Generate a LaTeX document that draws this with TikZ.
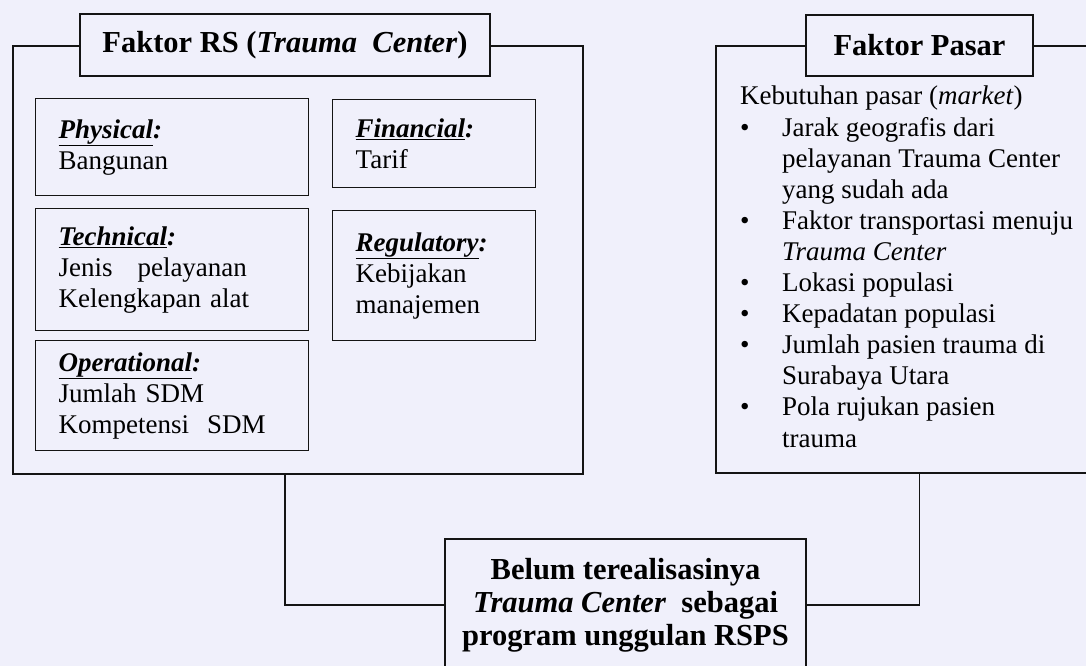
\documentclass[tikz,border=0pt]{standalone}
\usepackage{fontspec}
\setmainfont{Liberation Serif}
\usepackage{tikz}
\usetikzlibrary{positioning, calc}
\definecolor{latar}{RGB}{240,240,251}
\definecolor{garis}{RGB}{20,20,20}
\newcommand{\aspek}[1]{\textbf{\textit{\underline{#1}:}}}
\newcommand{\titik}{\makebox[42pt][l]{\textbullet}}
\newcommand{\geser}{\hspace*{42pt}}

\begin{document}
\begin{tikzpicture}[x=1pt, y=-1pt,
    bingkai/.style={draw=garis, line width=1.6pt, anchor=north west, inner sep=0pt},
    judul/.style={draw=garis, line width=1.6pt, fill=latar, align=center,
        font=\fontsize{30.5}{34}\selectfont\bfseries},
    kotak/.style={draw=garis, line width=1.4pt, anchor=north west, inner xsep=23pt,
        inner ysep=0pt, align=left, font=\fontsize{27}{31}\selectfont},
    hubung/.style={draw=garis, line width=1.6pt}]
    \useasboundingbox (0,0) rectangle (1086,666);
    \fill[latar] (0,0) rectangle (1086,666);
    \clip (0,0) rectangle (1086,666);

    % Faktor RS frame
    \node[bingkai, minimum width=570pt, minimum height=428pt] (rsframe) at (12,45) {};
    \node[judul, minimum width=410pt, minimum height=62pt] (rstitle) at (285,45)
        {Faktor RS (\textit{Trauma~ Center})};

    % aspects
    \node[kotak, text width=227pt, minimum height=97pt] (fisik) at (35,98)
        {\aspek{Physical}\\Bangunan};
    \node[kotak, text width=157pt, minimum height=88pt] (biaya) at (332,99)
        {\aspek{Financial}\\Tarif};
    \node[kotak, text width=227pt, minimum height=122pt] (teknis) at (35,208)
        {\aspek{Technical}\\Jenis\hspace{0.92em}pelayanan\\Kelengkapan alat};
    \node[kotak, text width=157pt, minimum height=130pt] (regulasi) at (332,210)
        {\aspek{Regulatory}\\Kebijakan\\manajemen};
    \node[kotak, text width=227pt, minimum height=110pt] (operasi) at (35,340)
        {\aspek{Operational}\\Jumlah SDM\\Kompetensi~ SDM};

    % Faktor Pasar frame
    \node[bingkai, minimum width=420pt, minimum height=427pt] (psframe) at (715,45) {};
    \node[judul, minimum width=227pt, minimum height=61pt] (pstitle) at (919.5,45.5)
        {Faktor Pasar};
    % base = last line
    \node[anchor=base west, inner sep=0pt, align=left,
        font=\fontsize{27}{31.1}\selectfont] (pasar) at (740,447)
        {Kebutuhan pasar (\textit{market})\\
         \titik Jarak geografis dari\\
         \geser pelayanan Trauma Center\\
         \geser yang sudah ada\\
         \titik Faktor transportasi menuju\\
         \geser \textit{Trauma Center}\\
         \titik Lokasi populasi\\
         \titik Kepadatan populasi\\
         \titik Jumlah pasien trauma di\\
         \geser Surabaya Utara\\
         \titik Pola rujukan pasien\\
         \geser trauma};

    % result
    \node[judul, fill=none, minimum width=361pt, minimum height=132pt,
        font=\fontsize{30.5}{33}\selectfont\bfseries] (hasil) at (625.5,605)
        {Belum terealisasinya\\\textit{Trauma Center}~ sebagai\\program unggulan RSPS};

    \draw[hubung] (rstitle |- rsframe.south) |- (hasil.west);
    \draw[hubung] (pstitle |- psframe.south) |- (hasil.east);
\end{tikzpicture}
\end{document}
